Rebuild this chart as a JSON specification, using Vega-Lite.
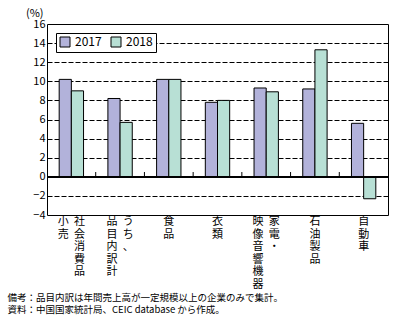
{
  "$schema": "https://vega.github.io/schema/vega-lite/v6.json",
  "autosize": "none",
  "width": 341,
  "height": 191,
  "padding": {"left": 47, "top": 24, "right": 9, "bottom": 114},
  "background": "white",
  "title": {"text": "(%)", "anchor": "start", "frame": "group", "dx": -21, "offset": -1, "fontSize": 11, "fontWeight": "normal", "color": "#000", "font": "Noto Sans CJK JP"},
  "config": {
    "view": {"stroke": "#000", "strokeWidth": 1},
    "font": "Noto Sans CJK JP"
  },
  "datasets": {
    "bars": [
      {"cat": "社会消費品小売", "year": "2017", "value": 10.2},
      {"cat": "社会消費品小売", "year": "2018", "value": 9.0},
      {"cat": "うち、品目内訳計", "year": "2017", "value": 8.2},
      {"cat": "うち、品目内訳計", "year": "2018", "value": 5.7},
      {"cat": "食品", "year": "2017", "value": 10.2},
      {"cat": "食品", "year": "2018", "value": 10.2},
      {"cat": "衣類", "year": "2017", "value": 7.8},
      {"cat": "衣類", "year": "2018", "value": 8.0},
      {"cat": "家電・映像音響機器", "year": "2017", "value": 9.3},
      {"cat": "家電・映像音響機器", "year": "2018", "value": 8.9},
      {"cat": "石油製品", "year": "2017", "value": 9.2},
      {"cat": "石油製品", "year": "2018", "value": 13.3},
      {"cat": "自動車", "year": "2017", "value": 5.6},
      {"cat": "自動車", "year": "2018", "value": -2.3}
    ],
    "labels": [
      {"cat": "社会消費品小売", "col": "R", "text": "社\n会\n消\n費\n品"},
      {"cat": "社会消費品小売", "col": "L", "text": "小\n売"},
      {"cat": "うち、品目内訳計", "col": "R", "text": "う\nち\n、"},
      {"cat": "うち、品目内訳計", "col": "L", "text": "品\n目\n内\n訳\n計"},
      {"cat": "食品", "col": "C", "text": "食\n品"},
      {"cat": "衣類", "col": "C", "text": "衣\n類"},
      {"cat": "家電・映像音響機器", "col": "R", "text": "家\n電\n・"},
      {"cat": "家電・映像音響機器", "col": "L", "text": "映\n像\n音\n響\n機\n器"},
      {"cat": "石油製品", "col": "C", "text": "石\n油\n製\n品"},
      {"cat": "自動車", "col": "C", "text": "自\n動\n車"}
    ],
    "seps": [
      {"cat": "社会消費品小売"},
      {"cat": "うち、品目内訳計"},
      {"cat": "食品"},
      {"cat": "衣類"},
      {"cat": "家電・映像音響機器"},
      {"cat": "石油製品"}
    ]
  },
  "layer": [
    {
      "data": {"name": "bars"},
      "mark": {"type": "bar", "stroke": "#000", "strokeWidth": 1},
      "encoding": {
        "x": {
          "field": "cat", "type": "nominal",
          "sort": ["社会消費品小売", "うち、品目内訳計", "食品", "衣類", "家電・映像音響機器", "石油製品", "自動車"],
          "scale": {"domain": ["社会消費品小売", "うち、品目内訳計", "食品", "衣類", "家電・映像音響機器", "石油製品", "自動車"], "paddingInner": 0.5, "paddingOuter": 0.25},
          "axis": {
            "labels": false, "ticks": false, "domain": false,
            "title": ["備考：品目内訳は年間売上高が一定規模以上の企業のみで集計。", "資料：中国国家統計局、CEIC database から作成。"],
            "titleFontSize": 9.5, "titleFontWeight": "normal", "titleColor": "#000",
            "titleAlign": "left", "titleBaseline": "top", "titleAnchor": "start",
            "titleX": -40, "titleY": 77, "titleLineHeight": 12
          }
        },
        "xOffset": {"field": "year", "type": "nominal", "scale": {"paddingInner": 0, "paddingOuter": 0}},
        "y": {
          "field": "value", "type": "quantitative",
          "scale": {"domain": [-4, 16], "nice": false},
          "axis": {
            "values": [-4, -2, 0, 2, 4, 6, 8, 10, 12, 14, 16],
            "labelOverlap": false,
            "title": null,
            "labelFontSize": 11, "labelColor": "#000", "labelPadding": 2,
            "ticks": false, "domain": false,
            "grid": true, "gridColor": "#000", "gridDash": [5, 2], "gridWidth": 1,
            "gridOpacity": {"condition": {"test": "datum.value == 0 || datum.value == 16 || datum.value == -4", "value": 0}, "value": 1}
          }
        },
        "color": {
          "field": "year", "type": "nominal",
          "scale": {"domain": ["2017", "2018"], "range": ["#b2b2da", "#b8e0d5"]},
          "legend": {
            "title": null, "orient": "none", "legendX": 9, "legendY": 9,
            "direction": "horizontal",
            "fillColor": "#fff", "strokeColor": "#000", "padding": 3,
            "symbolType": "square", "symbolSize": 100, "symbolStrokeColor": "#000",
            "symbolStrokeWidth": 1, "symbolOpacity": 1,
            "labelFontSize": 12, "labelColor": "#000", "labelOffset": 4,
            "columnPadding": 7
          }
        }
      }
    },
    {
      "data": {"name": "bars"},
      "mark": {"type": "rule", "color": "#000", "strokeWidth": 1},
      "encoding": {"y": {"datum": 0, "type": "quantitative", "axis": null}}
    },
    {
      "data": {"name": "seps"},
      "mark": {"type": "rule", "color": "#000", "strokeWidth": 1},
      "encoding": {
        "x": {"field": "cat", "type": "nominal", "bandPosition": 1.5, "axis": null,
              "sort": ["社会消費品小売", "うち、品目内訳計", "食品", "衣類", "家電・映像音響機器", "石油製品", "自動車"]},
        "y": {"datum": 0, "type": "quantitative", "axis": null},
        "y2": {"datum": 0.5}
      }
    },
    {
      "data": {"name": "labels"},
      "mark": {"type": "text", "fontSize": 11, "lineBreak": "\n", "lineHeight": 12.6, "baseline": "top", "align": "center", "dy": 1, "color": "#000"},
      "encoding": {
        "x": {"field": "cat", "type": "nominal", "axis": null,
              "sort": ["社会消費品小売", "うち、品目内訳計", "食品", "衣類", "家電・映像音響機器", "石油製品", "自動車"]},
        "xOffset": {"field": "col", "type": "nominal", "scale": {"type": "point", "domain": ["L", "C", "R"], "padding": 0.5}},
        "y": {"datum": -4, "type": "quantitative", "axis": null},
        "text": {"field": "text"}
      }
    }
  ],
  "resolve": {"scale": {"xOffset": "independent"}, "axis": {"x": "independent", "y": "independent"}}
}
